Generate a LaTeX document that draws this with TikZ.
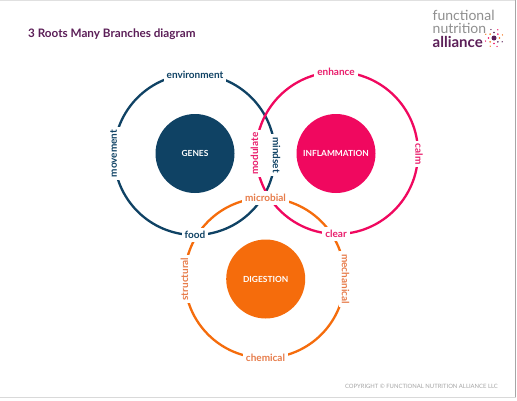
\documentclass[tikz,border=0pt]{standalone}
\usepackage{fontspec}
\usetikzlibrary{calc}
\setmainfont{Lato}
\definecolor{navy}{HTML}{0F4264}
\definecolor{pinkc}{HTML}{F0085F}
\definecolor{orangec}{HTML}{F56C0C}
\definecolor{orangetxt}{HTML}{E77C4A}
\definecolor{pinktxt}{HTML}{E91E6C}
\definecolor{purplec}{HTML}{5C1F58}
\definecolor{greyc}{HTML}{8F8F8F}
\tikzset{
 ring/.style={circle,draw,line width=2.3pt,minimum size=#1,inner sep=0pt},
 core/.style={circle,fill,minimum size=79pt,inner sep=0pt,text=white,font=\bfseries\fontsize{8.4}{10}\selectfont},
 lab/.style={fill=white,inner sep=0pt,minimum height=14pt,text depth=0pt,font=\bfseries\fontsize{10}{12}\selectfont,inner xsep=3pt},
 sparkdot/.style={circle,fill,inner sep=0pt,minimum size=#1},
 logo/.style={anchor=base west,inner sep=0pt,font=\fontsize{14}{16}\selectfont},
}
\begin{document}
\begin{tikzpicture}[x=1pt,y=-1pt]
\useasboundingbox (0,0) rectangle (517,400);
\fill[white] (0,0) rectangle (517,400);
\draw[line width=.8pt,black!12] (0,.5) -- (515,.5);
\draw[line width=1pt,black!35] (515.5,0) -- (515.5,397);
\draw[line width=.8pt,black!15] (0,397.5) -- (515.5,397.5);
\node[ring=161pt,draw=navy] (ringg) at (194.5,154.5) {};
\node[ring=162pt,draw=pinkc] (ringi) at (337,153) {};
\node[ring=160pt,draw=orangec] (ringd) at (264.7,278) {};
\node[core,fill=navy] (genes) at (195,153.5) {GENES};
\node[core,fill=pinkc] (infl) at (336,153.5) {INFLAMMATION};
\node[core,fill=orangec] (dig) at (265.7,279) {DIGESTION};
\node[lab,text=navy] (l1) at (195,74.5) {environment};
\node[lab,text=navy,rotate=90] (l2) at (113.5,153.5) {movement};
\node[lab,text=navy,rotate=-90] (l3) at (276.5,155) {mindset};
\node[lab,text=navy] (l4) at (195,234.5) {food};
\node[lab,text=pinktxt] (l5) at (336,72) {enhance};
\node[lab,text=pinktxt,rotate=-90] (l6) at (419,154) {calm};
\node[lab,text=pinktxt,rotate=90] (l7) at (254.5,153.5) {modulate};
\node[lab,text=pinktxt] (l8) at (336,234) {clear};
\node[lab,text=orangetxt] (l9) at (265.5,197.5) {microbial};
\node[lab,text=orangetxt,rotate=90] (l10) at (184.5,279) {structural};
\node[lab,text=orangetxt,rotate=-90] (l11) at (345.5,279) {mechanical};
\node[lab,text=orangetxt] (l12) at (265.5,358) {chemical};
\node[anchor=base west,inner sep=0pt,text=purplec,font=\bfseries\fontsize{11.7}{14}\selectfont] (title) at (28,37) {3 Roots Many Branches diagram};
\node[logo,text=greyc] (lf) at (432.5,20) {functional};
\node[logo,text=greyc] (ln) at (432.5,33) {nutrition};
\node[logo,text=purplec,font=\bfseries\fontsize{15}{17}\selectfont] (la) at (432.5,47.5) {alliance};
\node[sparkdot=5pt,fill=purplec] (s0) at (494,38) {};
\foreach \a/\c in {0/orangec,45/pinkc,90/purplec,135/orangec,180/pinkc,225/orangec,270/pinkc,315/purplec}{
  \node[sparkdot=1.8pt,fill=\c] at ($(s0)+(\a:5.5pt)$) {};
  \node[sparkdot=1.4pt,fill=\c] at ($(s0)+(\a+20:9pt)$) {};
}
\node[anchor=base east,inner sep=0pt,text=black!35,font=\fontsize{5.9}{7}\selectfont] (copy) at (498,388) {COPYRIGHT © FUNCTIONAL NUTRITION ALLIANCE LLC};
\end{tikzpicture}
\end{document}
